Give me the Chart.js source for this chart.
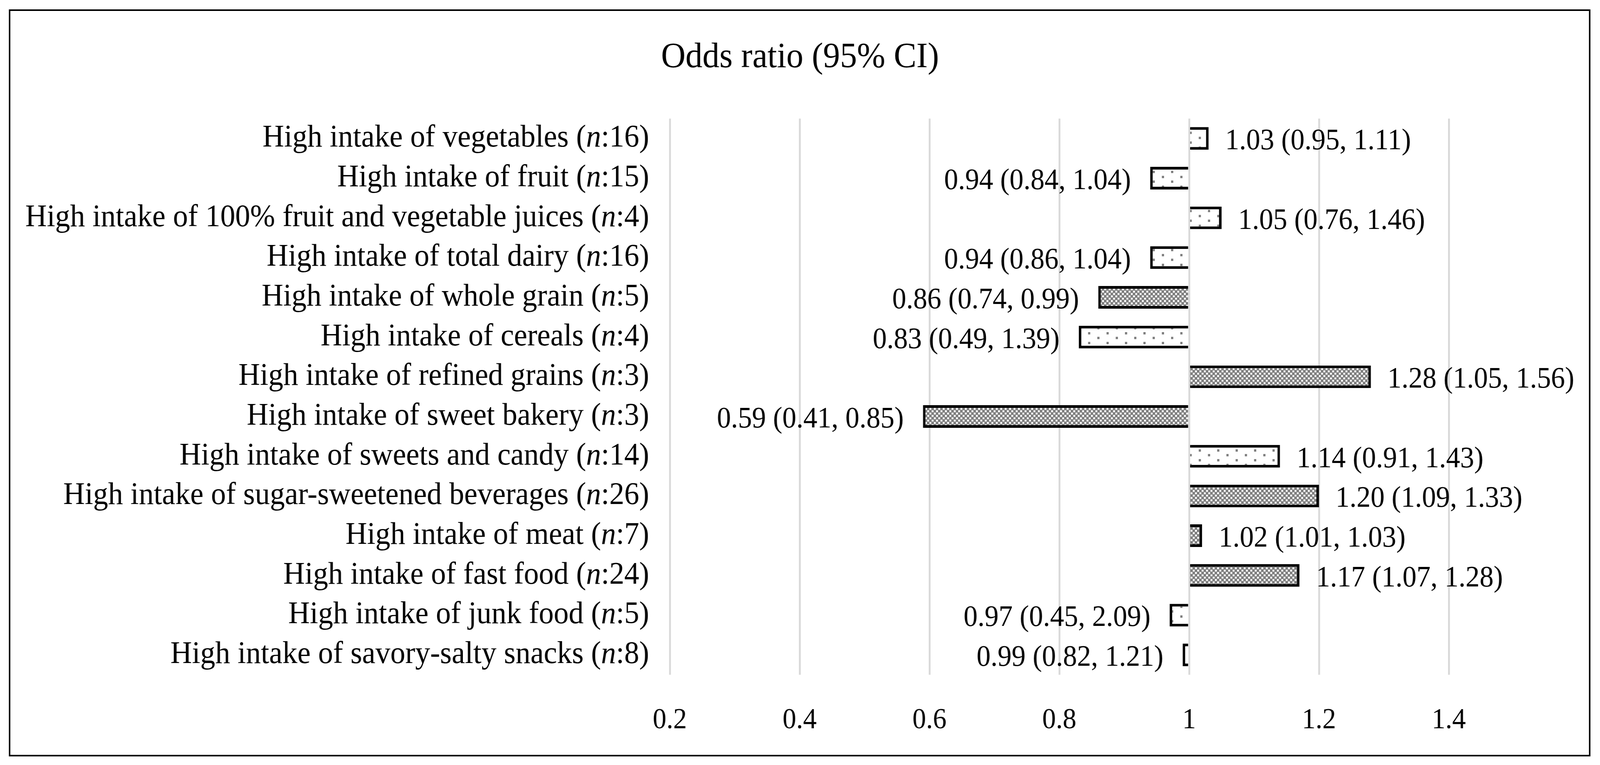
<!DOCTYPE html>
<html><head><meta charset="utf-8">
<script src="https://cdn.jsdelivr.net/npm/chart.js@4.4.1/dist/chart.umd.min.js"></script>
<style>html,body{margin:0;padding:0;background:#fff;overflow:hidden;width:100%;height:100%}#c{display:block}</style>
</head><body><canvas id="c" width="4338" height="1958" style="width:100vw;height:100vh"></canvas>
<script>
const foods = [
  'High intake of vegetables',
  'High intake of fruit',
  'High intake of 100% fruit and vegetable juices',
  'High intake of total dairy',
  'High intake of whole grain',
  'High intake of cereals',
  'High intake of refined grains',
  'High intake of sweet bakery',
  'High intake of sweets and candy',
  'High intake of sugar-sweetened beverages',
  'High intake of meat',
  'High intake of fast food',
  'High intake of junk food',
  'High intake of savory-salty snacks'
];
const nCounts   = [16, 15, 4, 16, 5, 4, 3, 3, 14, 26, 7, 24, 5, 8];
const oddsRatios = [1.03, 0.94, 1.05, 0.94, 0.86, 0.83, 1.28, 0.59, 1.14, 1.20, 1.02, 1.17, 0.97, 0.99];
const ciLower    = [0.95, 0.84, 0.76, 0.86, 0.74, 0.49, 1.05, 0.41, 0.91, 1.09, 1.01, 1.07, 0.45, 0.82];
const ciUpper    = [1.11, 1.04, 1.46, 1.04, 0.99, 1.39, 1.56, 0.85, 1.43, 1.33, 1.03, 1.28, 2.09, 1.21];
const xTickValues = [0.2, 0.4, 0.6, 0.8, 1, 1.2, 1.4];
const xTickLabels = ['0.2', '0.4', '0.6', '0.8', '1', '1.2', '1.4'];
const chartTitle = 'Odds ratio (95% CI)';

const FONT = "'Liberation Serif', 'Times New Roman', serif";

function makeDotPattern() {
  const c = document.createElement('canvas');
  c.width = 50; c.height = 25;
  const g = c.getContext('2d');
  g.fillStyle = '#ffffff'; g.fillRect(0, 0, 50, 25);
  g.fillStyle = '#7f7f7f';
  g.fillRect(0, 0, 6, 6);
  g.fillRect(25, 12, 6, 6);
  return g.createPattern(c, 'repeat');
}
function makeCheckPattern() {
  const c = document.createElement('canvas');
  c.width = 12; c.height = 12;
  const g = c.getContext('2d');
  g.fillStyle = '#808080'; g.fillRect(0, 0, 12, 12);
  g.fillStyle = '#ffffff';
  g.fillRect(0, 0, 5, 5);
  g.fillRect(6, 6, 5, 5);
  return g.createPattern(c, 'repeat');
}
const dotPattern = makeDotPattern();
const checkPattern = makeCheckPattern();
const significant = ciLower.map((lo, i) => lo > 1 || ciUpper[i] < 1);
const fills = significant.map(s => s ? checkPattern : dotPattern);

const fmt = v => v.toFixed(2);

const decorPlugin = {
  id: 'decor',
  beforeDraw(chart) {
    const ctx = chart.ctx;
    ctx.save();
    ctx.fillStyle = '#ffffff';
    ctx.fillRect(0, 0, chart.width, chart.height);
    ctx.strokeStyle = '#000000';
    ctx.lineWidth = 4;
    ctx.strokeRect(26, 26, 4284, 1908);
    ctx.restore();
  },
  afterDatasetsDraw(chart) {
    const ctx = chart.ctx;
    const meta = chart.getDatasetMeta(0);
    ctx.save();
    ctx.fillStyle = '#000000';
    ctx.font = '76px ' + FONT;
    ctx.textBaseline = 'alphabetic';
    meta.data.forEach((bar, i) => {
      const txt = fmt(oddsRatios[i]) + ' (' + fmt(ciLower[i]) + ', ' + fmt(ciUpper[i]) + ')';
      if (oddsRatios[i] >= 1) {
        ctx.textAlign = 'left';
        ctx.fillText(txt, bar.x + 45, bar.y + 28);
      } else {
        ctx.textAlign = 'right';
        ctx.fillText(txt, bar.x - 52, bar.y + 28);
      }
    });
    // category labels with italic n
    const yScale = chart.scales.y;
    const rightX = chart.chartArea.left - 56;
    const normal = '81px ' + FONT;
    const italic = 'italic 81px ' + FONT;
    ctx.textAlign = 'left';
    foods.forEach((f, i) => {
      const y = yScale.getPixelForValue(i) + 21;
      const p1 = f + ' (';
      const p2 = 'n';
      const p3 = ':' + nCounts[i] + ')';
      ctx.font = normal; const w1 = ctx.measureText(p1).width; const w3 = ctx.measureText(p3).width;
      ctx.font = italic; const w2 = ctx.measureText(p2).width;
      let x = rightX - (w1 + w2 + w3);
      ctx.font = normal; ctx.fillText(p1, x, y); x += w1;
      ctx.font = italic; ctx.fillText(p2, x, y); x += w2;
      ctx.font = normal; ctx.fillText(p3, x, y);
    });
    ctx.restore();
  }
};

new Chart(document.getElementById('c'), {
  type: 'bar',
  data: {
    labels: foods.map((f, i) => f + ' (n:' + nCounts[i] + ')'),
    datasets: [{
      data: oddsRatios,
      base: 1,
      backgroundColor: fills,
      borderColor: '#000000',
      borderWidth: 7,
      borderSkipped: 'start',
      categoryPercentage: 1,
      barPercentage: 0.57
    }]
  },
  options: {
    indexAxis: 'y',
    responsive: false,
    devicePixelRatio: 1,
    animation: false,
    layout: { padding: { left: 410, right: 410, top: 0, bottom: 0 } },
    plugins: {
      legend: { display: false },
      tooltip: { enabled: false },
      title: {
        display: true,
        text: chartTitle,
        color: '#000000',
        font: { family: FONT, size: 92, weight: 'normal' },
        padding: { top: 93, bottom: 100 }
      }
    },
    scales: {
      x: {
        type: 'linear',
        min: 0.2,
        max: 1.4,
        afterBuildTicks: s => { s.ticks = xTickValues.map(v => ({ value: v })); },
        afterFit: s => { s.height = 231; },
        ticks: {
          callback: (v, i) => xTickLabels[i],
          color: '#000000',
          font: { family: FONT, size: 74 },
          padding: 73,
          maxRotation: 0,
          autoSkip: false
        },
        grid: { color: '#d9d9d9', lineWidth: 5, drawTicks: false },
        border: { display: false }
      },
      y: {
        type: 'category',
        afterFit: s => { s.width = 1406; },
        ticks: { display: false },
        grid: { display: false },
        border: { display: false }
      }
    }
  },
  plugins: [decorPlugin]
});
</script>
</body></html>
